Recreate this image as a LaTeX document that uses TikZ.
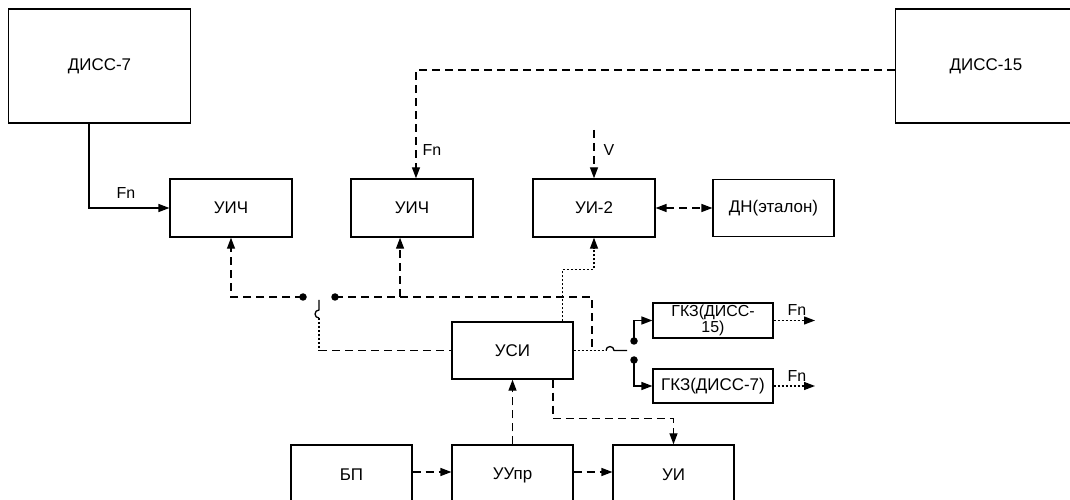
\documentclass[tikz,border=0pt]{standalone}
\usepackage{fontspec}
\setmainfont{Liberation Sans}
\usetikzlibrary{arrows.meta,calc}
\begin{document}
\begin{tikzpicture}[x=1bp,y=-1bp,
  box/.style={draw,line width=1.6bp,inner sep=0pt,font=\fontsize{17}{18}\selectfont,align=center},
  conn/.style={line width=1.3bp},
  dsh/.style={conn,dash pattern=on 8bp off 5bp},
  dtl/.style={conn,dash pattern=on 2bp off 2bp},
  tip/.style={-{Triangle[length=11bp,width=8bp]}},
  lbl/.style={font=\fontsize{16}{18}\selectfont,inner sep=0pt},
  dotn/.style={circle,fill,inner sep=0pt,minimum size=7.5bp}
]
\useasboundingbox (0,0) rectangle (1070,500);
\clip (0,0) rectangle (1070,500);
% boxes
\node[box,minimum width=183,minimum height=114] (d7) at (99.5,66) {ДИСС-7};
\node[box,minimum width=182,minimum height=114] (d15) at (986,66) {ДИСС-15};
\node[box,minimum width=122,minimum height=58] (u1) at (231,208) {УИЧ};
\node[box,minimum width=122,minimum height=58] (u2) at (412,208) {УИЧ};
\node[box,minimum width=122,minimum height=58] (ui2) at (594,208) {УИ-2};
\node[box,minimum width=121,minimum height=57] (dn) at (773.5,208) {ДН(эталон)};
\node[box,minimum width=121,minimum height=57] (usi) at (512.5,350.5) {УСИ};
\node[box,minimum width=120,minimum height=35,font=\fontsize{16}{14.5}\selectfont] (g15) at (713,320.5) {ГКЗ(ДИСС-\\15)};
\node[box,minimum width=120,minimum height=34] (g7) at (713,386) {ГКЗ(ДИСС-7)};
\node[box,minimum width=121,minimum height=60] (bp) at (351.5,475) {БП};
\node[box,minimum width=121,minimum height=60] (uupr) at (512.5,475) {УУпр};
\node[box,minimum width=121,minimum height=60] (ui) at (673.5,475) {УИ};
% labels
\node[lbl] (fn1) at (126,193) {Fn};
\node[lbl] (fn2) at (432,150) {Fn};
\node[lbl] (vl) at (609,150) {V};
\node[lbl] (fn3) at (797,310) {Fn};
\node[lbl] (fn4) at (797,376) {Fn};
% coordinates
\coordinate (r) at (0,472);
\coordinate (vtop) at (594,130);
\coordinate (pl) at (319,300);
\coordinate (jr) at (592,350.5);
\coordinate (hp) at (606,350.5);
\coordinate (arm) at (627,350.5);
\coordinate (o1) at (815,320.5);
\coordinate (o2) at (815,386);
% switch dots
\node[dotn] (sa) at (303,297) {};
\node[dotn] (sb) at (335,297) {};
\node[dotn] (sc) at (634,341) {};
\node[dotn] (sd) at (634,360) {};
% connectors
\draw[conn,tip] ([xshift=-10.5]d7.south) |- (u1.west);
\draw[dsh,tip] (d15.west |- 0,70) -| ([xshift=4]u2.north);
\draw[dsh,tip] (vtop) -- (ui2.north);
\draw[dsh,{Triangle[length=11bp,width=8bp]}-{Triangle[length=11bp,width=8bp]}] (ui2.east) -- (dn.west);
\draw[dsh,tip] (sa.center) -| (u1.south);
\draw[dsh] (sb.center) -| (jr);
\draw[dsh,tip] ([xshift=-12]u2.south |- sb) -- ([xshift=-12]u2.south);
\draw[conn] (pl) -- ++(0,10) arc[start angle=-90,end angle=-270,radius=4] coordinate (pa);
\draw[dtl] (pa) -- (pl |- usi.west);
\draw[dsh] (pl |- usi.west) -- (usi.west);
\draw[dtl] (usi.east) -- (hp);
\draw[conn] (hp) arc[start angle=180,end angle=360,radius=4] -- (arm);
\draw[conn,tip] (sc.center) |- (g15.west);
\draw[conn,tip] (sd.center) |- (g7.west);
\draw[dtl,tip] (g15.east) -- (o1);
\draw[dtl,tip] (g7.east) -- (o2);
\draw[dtl,tip] ([xshift=50.5]usi.north) -- ++(0,-52) -| (ui2.south);
\draw[dsh,tip] (bp.east |- r) -- (uupr.west |- r);
\draw[dsh,tip] (uupr.east |- r) -- (ui.west |- r);
\draw[dsh,tip] (uupr.north) -- (usi.south);
\draw[dsh,tip] ([xshift=40.5]usi.south) -- ++(0,39) -| (ui.north);
\end{tikzpicture}
\end{document}
